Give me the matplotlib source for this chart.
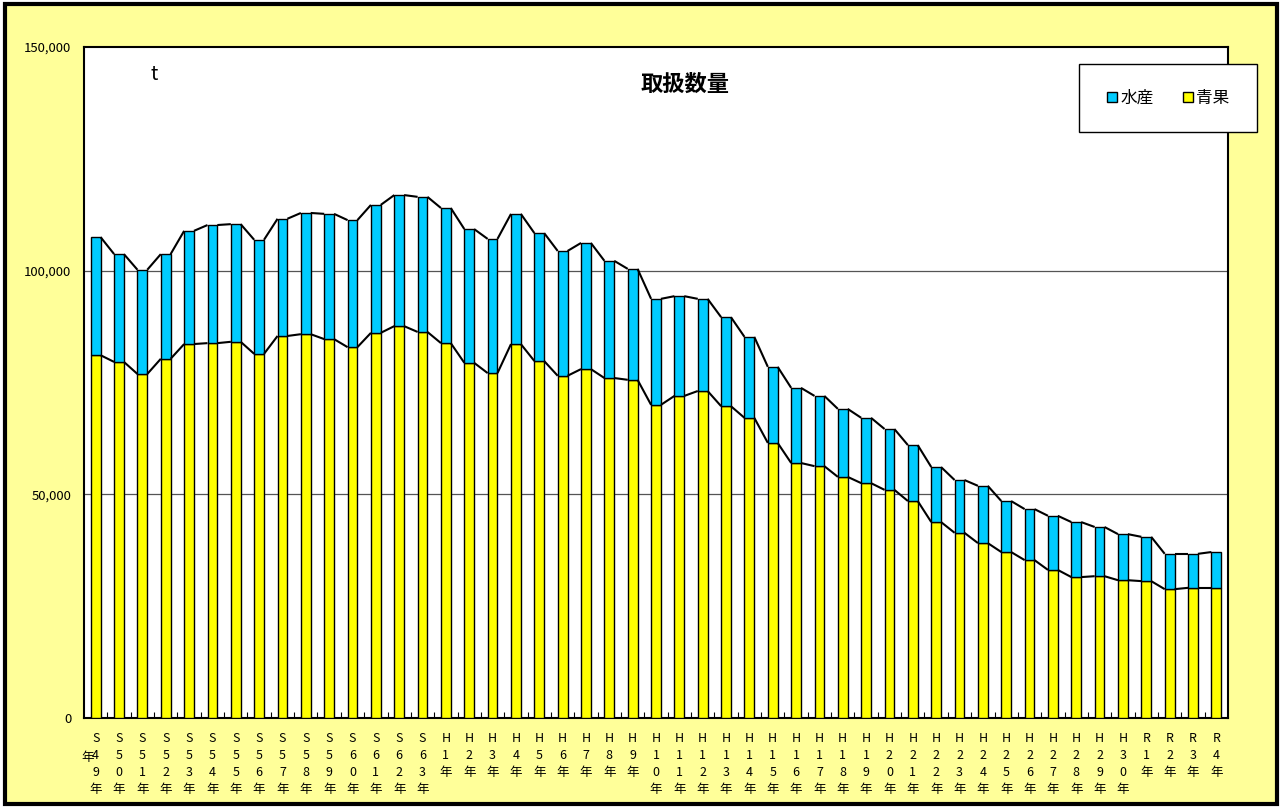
import matplotlib
matplotlib.use("Agg")
import matplotlib.pyplot as plt
from matplotlib.patches import Rectangle
from matplotlib.lines import Line2D
from matplotlib.collections import LineCollection
from matplotlib.ticker import FuncFormatter, FixedLocator

plt.rcParams['font.family'] = ['Noto Sans CJK JP', 'DejaVu Sans']

categories = (["S49年"] + [f"S{n}年" for n in range(50, 64)] +
              [f"H{n}年" for n in range(1, 31)] +
              [f"R{n}年" for n in range(1, 5)])

seika = [81100, 79600, 76900, 80300, 83600, 83800, 84100, 81400, 85400, 85800,
         84700, 82900, 86100, 87600, 86300, 83800, 79400, 77100, 83600, 79800,
         76500, 78000, 76000, 75600, 70000, 72000, 73100, 69700, 67100, 61500,
         57000, 56300, 53900, 52500, 51000, 48500, 43800, 41400, 39100, 37100,
         35300, 33100, 31500, 31700, 30800, 30600, 28800, 29100, 29100]

suisan = [26400, 24100, 23300, 23400, 25300, 26400, 26300, 25500, 26200, 27100,
          28000, 28400, 28600, 29300, 30200, 30200, 29900, 30000, 29100, 28600,
          27900, 28200, 26200, 24800, 23700, 22300, 20600, 19900, 18100, 17000,
          16800, 15700, 15200, 14600, 13600, 12500, 12300, 11800, 12800, 11400,
          11400, 12100, 12300, 11000, 10300, 9900, 7900, 7600, 8000]

yticks = [0, 50000, 100000, 150000]

W, H = 1282, 807
fig = plt.figure(figsize=(W / 100, H / 100), dpi=100)
fig.patch.set_facecolor("white")
fig.patches.append(Rectangle((5 / W, 3 / H), (1277 - 5) / W, (803 - 3) / H,
                             transform=fig.transFigure, facecolor="#FFFF99",
                             edgecolor="black", linewidth=3, zorder=-10))

left, right, top, bottom = 84, 1228, 47, 718
ax = fig.add_axes([left / W, 1 - bottom / H, (right - left) / W, (bottom - top) / H])
ax.set_facecolor("white")

n = len(categories)
x = list(range(n))
w = 0.42
ax.bar(x, seika, width=w, color="#FFFF00", edgecolor="black", linewidth=1.0, zorder=3)
ax.bar(x, suisan, width=w, bottom=seika, color="#00CCFF", edgecolor="black",
       linewidth=1.0, zorder=3)

totals = [a + b for a, b in zip(seika, suisan)]
segs = []
for series in (seika, totals):
    for i in range(n - 1):
        segs.append([(i + w / 2, series[i]), (i + 1 - w / 2, series[i + 1])])
ax.add_collection(LineCollection(segs, colors="black", linewidths=1.5, zorder=4))

ax.set_xlim(-0.5, n - 0.5)
ax.set_ylim(0, 150000)
ax.set_yticks(yticks)
ax.yaxis.set_major_formatter(FuncFormatter(lambda v, p: f"{int(v):,}"))
ax.tick_params(axis="y", length=0, pad=9, labelsize=9.5)
for yv in yticks[1:3]:
    ax.axhline(yv, color="#555555", linewidth=0.9, zorder=1)

ax.set_xticks(x)
ax.set_xticklabels(["\n".join(c) for c in categories], fontsize=9,
                   linespacing=1.42, va="top")
ax.tick_params(axis="x", which="major", length=0, pad=10)
ax.xaxis.set_minor_locator(FixedLocator([i + 0.5 for i in range(n - 1)]))
ax.tick_params(axis="x", which="minor", direction="in", length=4, width=0.8)

for s in ax.spines.values():
    s.set_linewidth(1.5)
    s.set_color("black")

fig.text(685 / W, 1 - 84 / H, "取扱数量", ha="center", va="center",
         fontsize=16, fontweight="bold")
fig.text(154 / W, 1 - 75 / H, "t", ha="center", va="center", fontsize=14)
fig.text(88 / W, 1 - 758 / H, "年", ha="center", va="center", fontsize=9)

# legend box
lx0, ly0, lx1, ly1 = 1079, 64, 1257, 132
fig.patches.append(Rectangle((lx0 / W, 1 - ly1 / H), (lx1 - lx0) / W, (ly1 - ly0) / H,
                             transform=fig.transFigure, facecolor="white",
                             edgecolor="black", linewidth=1.0, zorder=20))
handles = [Line2D([], [], linestyle="none", marker="s", markersize=6.5,
                  markerfacecolor="#00CCFF", markeredgecolor="black", markeredgewidth=1),
           Line2D([], [], linestyle="none", marker="s", markersize=6.5,
                  markerfacecolor="#FFFF00", markeredgecolor="black", markeredgewidth=1)]
leg = fig.legend(handles, ["水産", "青果"], ncol=2, loc="center",
                 bbox_to_anchor=((lx0 + lx1) / 2 / W, 1 - (ly0 + ly1) / 2 / H),
                 bbox_transform=fig.transFigure, fontsize=12,
                 frameon=False, handlelength=0.7,
                 handletextpad=0.15, columnspacing=1.7, borderaxespad=0)
leg.set_zorder(21)

fig.savefig("out.png", dpi=100)
